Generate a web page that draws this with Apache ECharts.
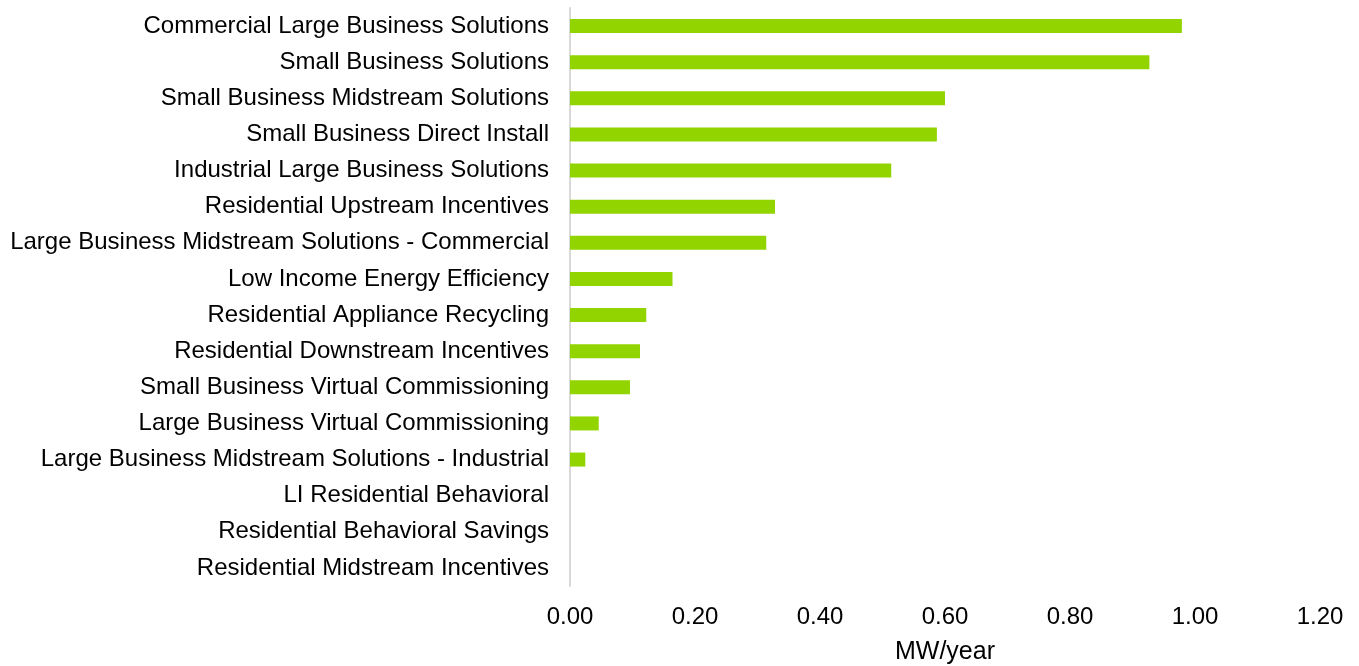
<!DOCTYPE html>
<html><head><meta charset="utf-8">
<script src="https://cdn.jsdelivr.net/npm/echarts@6/dist/echarts.min.js"></script>
<style>html,body{margin:0;padding:0;background:#fff}#c{width:1359px;height:666px}</style>
</head><body><div id="c"></div>
<script>
const categories = [
  "Commercial Large Business Solutions",
  "Small Business Solutions",
  "Small Business Midstream Solutions",
  "Small Business Direct Install",
  "Industrial Large Business Solutions",
  "Residential Upstream Incentives",
  "Large Business Midstream Solutions - Commercial",
  "Low Income Energy Efficiency",
  "Residential Appliance Recycling",
  "Residential Downstream Incentives",
  "Small Business Virtual Commissioning",
  "Large Business Virtual Commissioning",
  "Large Business Midstream Solutions - Industrial",
  "LI Residential Behavioral",
  "Residential Behavioral Savings",
  "Residential Midstream Incentives"
];
const values = [0.979, 0.927, 0.600, 0.587, 0.514, 0.328, 0.314, 0.164, 0.122, 0.112, 0.096, 0.046, 0.0245, 0, 0, 0];
const xTicks = { min: 0, max: 1.2, interval: 0.2 };
const axisName = "MW/year";

const chart = echarts.init(document.getElementById('c'));
chart.setOption({
  animation: false,
  grid: { left: 570, right: 39, top: 8, bottom: 80, containLabel: false, outerBoundsMode: 'none' },
  xAxis: {
    type: 'value', min: xTicks.min, max: xTicks.max, interval: xTicks.interval,
    name: axisName, nameLocation: 'middle', nameGap: 54,
    nameTextStyle: { fontFamily: 'Liberation Sans', fontSize: 25, color: '#000' },
    axisLine: { show: false }, axisTick: { show: false }, splitLine: { show: false },
    axisLabel: { fontFamily: 'Liberation Sans', fontSize: 24, color: '#000', margin: 19,
      formatter: v => v.toFixed(2) }
  },
  yAxis: {
    type: 'category', data: categories, inverse: true,
    axisLine: { show: true, lineStyle: { color: '#d9d9d9', width: 2 } },
    axisTick: { show: false },
    axisLabel: { fontFamily: 'Liberation Sans', fontSize: 24, color: '#000', margin: 21, padding: [2, 0, 0, 0] }
  },
  series: [{
    type: 'bar', data: values, barWidth: 14,
    itemStyle: { color: '#92d400' }
  }]
});
</script></body></html>
